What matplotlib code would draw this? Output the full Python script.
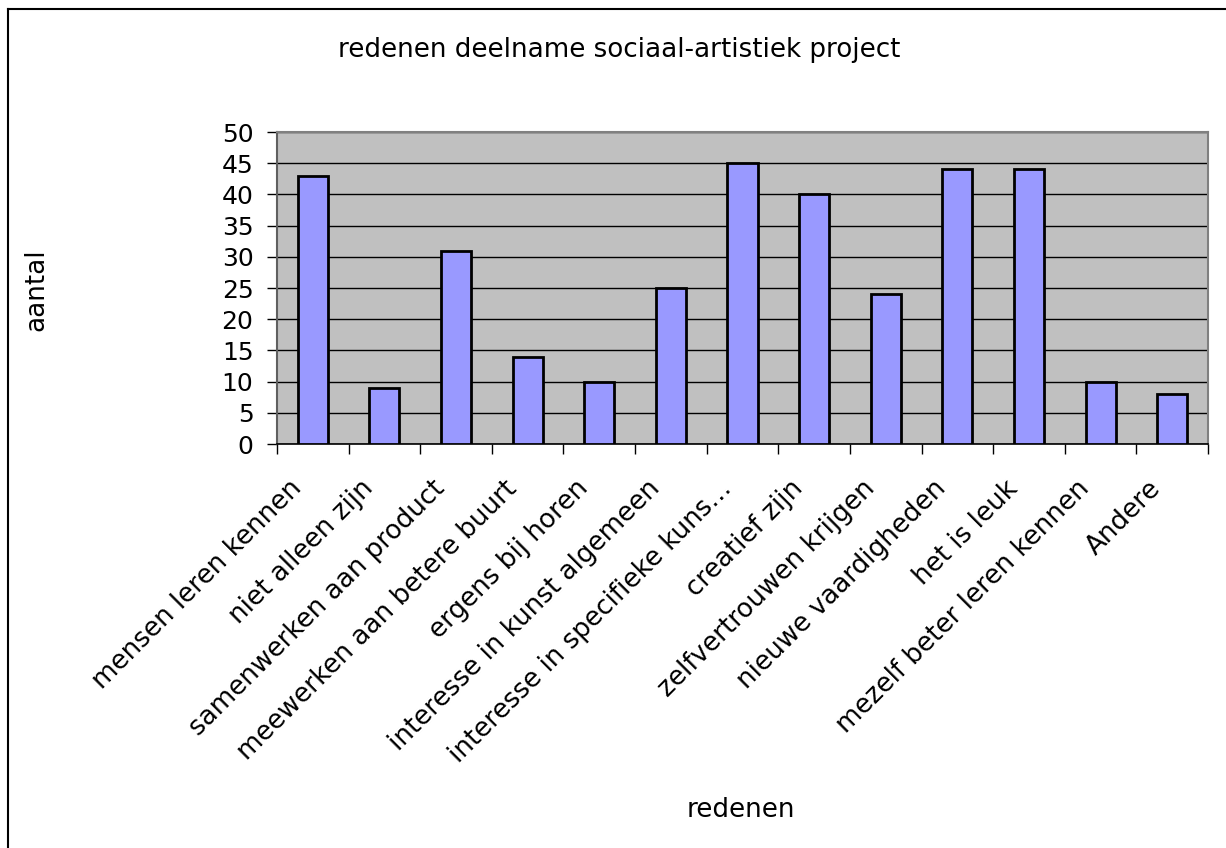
import matplotlib
matplotlib.use("Agg")
import matplotlib.pyplot as plt
from matplotlib.lines import Line2D
from matplotlib.transforms import ScaledTranslation
import numpy as np

redenen = ["mensen leren kennen", "niet alleen zijn", "samenwerken aan product",
           "meewerken aan betere buurt", "ergens bij horen", "interesse in kunst algemeen",
           "interesse in specifieke kuns\u2026", "creatief zijn", "zelfvertrouwen krijgen",
           "nieuwe vaardigheden", "het is leuk", "mezelf beter leren kennen", "Andere"]
aantal = [43, 9, 31, 14, 10, 25, 45, 40, 24, 44, 44, 10, 8]
yticks = [0, 5, 10, 15, 20, 25, 30, 35, 40, 45, 50]

plt.rcParams["font.family"] = "DejaVu Sans"
fs = 18.8

fig = plt.figure(figsize=(12.26, 8.48), dpi=100)
ax = fig.add_axes([277 / 1226, 1 - 444 / 848, (1208 - 277) / 1226, (444 - 132) / 848])

x = np.arange(len(redenen))
ax.bar(x, aantal, width=0.42, color="#9999ff", edgecolor="black", linewidth=2.0, zorder=3)

ax.set_facecolor("#c0c0c0")
ax.set_xlim(-0.5, len(redenen) - 0.5)
ax.set_ylim(0, 50)
ax.set_yticks(yticks)
ax.grid(True, axis="y", color="black", linewidth=1.0, zorder=1)

# category labels at centres, tick marks between categories
ax.set_xticks(x)
ax.set_xticklabels(redenen, rotation=45, ha="right", rotation_mode="anchor", fontsize=fs)
ax.tick_params(axis="x", length=0, pad=14)
shift = ScaledTranslation(-0.24, -0.12, fig.dpi_scale_trans)
for lab in ax.get_xticklabels():
    lab.set_transform(lab.get_transform() + shift)
ax.set_xticks(np.arange(len(redenen) + 1) - 0.5, minor=True)
ax.tick_params(axis="x", which="minor", length=7, width=1, color="black")
ax.tick_params(axis="y", length=7, width=1, pad=10, labelsize=18)

for s in ["top", "right"]:
    ax.spines[s].set_color("#808080")
    ax.spines[s].set_linewidth(1.5)
ax.spines["left"].set_color("#606060")
ax.spines["left"].set_linewidth(1.5)
ax.spines["bottom"].set_color("black")
ax.spines["bottom"].set_linewidth(1.2)

fig.text(619 / 1226, 1 - 50 / 848, "redenen deelname sociaal-artistiek project",
         ha="center", va="center", fontsize=fs)
fig.text(36 / 1226, 1 - 290 / 848, "aantal", rotation=90, ha="center", va="center", fontsize=fs)
fig.text(741 / 1226, 1 - 810 / 848, "redenen", ha="center", va="center", fontsize=fs)

# outer chart border (only left and top visible)
fig.add_artist(Line2D([7.5 / 1226, 7.5 / 1226], [0, 1 - 9 / 848], color="black", linewidth=1.5,
                      transform=fig.transFigure))
fig.add_artist(Line2D([7.5 / 1226, 1], [1 - 9 / 848, 1 - 9 / 848], color="black", linewidth=1.5,
                      transform=fig.transFigure))

fig.savefig("out.png", dpi=100)
